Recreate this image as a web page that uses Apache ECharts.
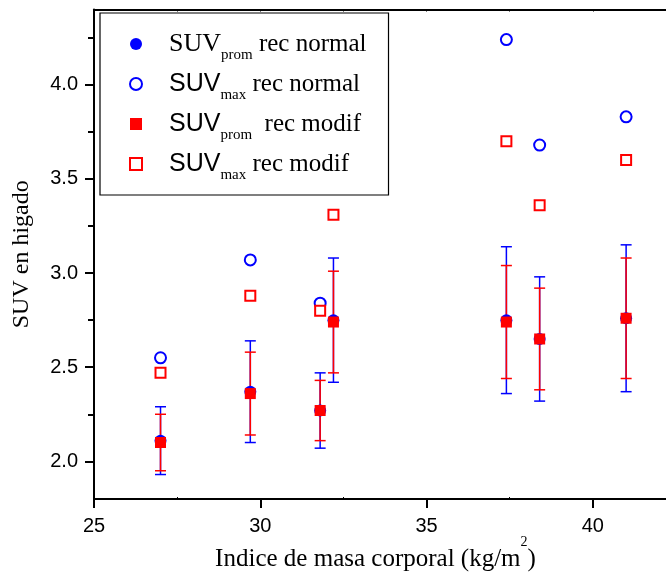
<!DOCTYPE html>
<html><head><meta charset="utf-8">
<script src="https://cdn.jsdelivr.net/npm/echarts@6/dist/echarts.min.js"></script>
<style>html,body{margin:0;padding:0;background:#fff}#c{width:666px;height:573px}</style>
</head><body><div id="c"></div>
<script>
// Data
const bmi = [27.0, 29.7, 31.8, 32.2, 37.4, 38.4, 41.0];
const promNormal = [2.11, 2.37, 2.27, 2.75, 2.75, 2.65, 2.76];
const errNormalLow = [1.93, 2.10, 2.07, 2.42, 2.36, 2.32, 2.37];
const errNormalHigh = [2.29, 2.64, 2.47, 3.08, 3.14, 2.98, 3.15];
const maxNormal = [2.55, 3.07, 2.84, null, 4.24, 3.68, 3.83];
const promModif = [2.10, 2.36, 2.27, 2.74, 2.74, 2.65, 2.76];
const errModifLow = [1.95, 2.14, 2.11, 2.47, 2.44, 2.38, 2.44];
const errModifHigh = [2.25, 2.58, 2.43, 3.01, 3.04, 2.92, 3.08];
const maxModif = [2.47, 2.88, 2.80, 3.31, 3.70, 3.36, 3.60];

const xTickLabels = [25, 30, 35, 40];
const xMinorTicks = [27.5, 32.5, 37.5];
const xTopTicks = [25, 27.5, 30, 32.5, 35, 37.5, 40];
const yTickLabels = [2.0, 2.5, 3.0, 3.5, 4.0];
const yMinorTicks = [2.25, 2.75, 3.25, 3.75, 4.25];

const seriesNames = ['SUVprom rec normal', 'SUVmax rec normal', 'SUVprom rec modif', 'SUVmax rec modif'];
const legendRich = {
  'SUVprom rec normal': '{g|}{s1|SUV}{sub|prom}{t| rec normal}',
  'SUVmax rec normal': '{g|}{s2|SUV}{sub|max}{t| rec normal}',
  'SUVprom rec modif': '{g|}{s2|SUV}{sub|prom}{t|  rec modif}',
  'SUVmax rec modif': '{g|}{s2|SUV}{sub|max}{t| rec modif}'
};

const BLUE = '#0000ff', RED = '#ff0000';
const pts = (ys) => bmi.map((x, i) => [x, ys[i]]).filter(p => p[1] != null);
const errs = (lo, hi) => bmi.map((x, i) => [x, lo[i], hi[i]]);

function errRender(color) {
  return function (params, api) {
    const x = api.value(0), lo = api.value(1), hi = api.value(2);
    const a = api.coord([x, hi]), b = api.coord([x, lo]);
    const w = 5.5;
    const st = { stroke: color, lineWidth: 1.5, fill: null };
    return { type: 'group', children: [
      { type: 'line', shape: { x1: a[0], y1: a[1], x2: b[0], y2: b[1] }, style: st },
      { type: 'line', shape: { x1: a[0] - w, y1: a[1], x2: a[0] + w, y2: a[1] }, style: st },
      { type: 'line', shape: { x1: b[0] - w, y1: b[1], x2: b[0] + w, y2: b[1] }, style: st }
    ]};
  };
}

const XMIN = 25, XMAX = 42.5, YMIN = 1.8, YMAX = 4.4;
const axisLineStyle = { color: '#000', width: 2 };

const chart = echarts.init(document.getElementById('c'), null, { renderer: 'canvas' });
chart.setOption({
  animation: false,
  backgroundColor: '#fff',
  grid: { left: 94, right: -10, top: 9.5, bottom: 74, containLabel: false, outerBoundsMode: 'none' },
  legend: {
    orient: 'vertical', left: 100, top: 13,
    padding: [18, 22, 12, 29],
    itemGap: 8.5, itemWidth: 12, itemHeight: 12,
    backgroundColor: '#fff', borderColor: '#000', borderWidth: 1.2, borderRadius: 0,
    data: [
      { name: seriesNames[0], icon: 'circle', itemStyle: { color: BLUE } },
      { name: seriesNames[1], icon: 'emptyCircle', itemStyle: { color: BLUE, borderColor: BLUE, borderWidth: 1.3 } },
      { name: seriesNames[2], icon: 'rect', itemStyle: { color: RED } },
      { name: seriesNames[3], icon: 'emptyRect', itemStyle: { color: RED, borderColor: RED, borderWidth: 1.3 } }
    ],
    formatter: n => legendRich[n],
    textStyle: {
      color: '#000',
      rich: {
        g: { width: 22, lineHeight: 38 },
        s1: { fontFamily: 'Liberation Serif', fontSize: 26, lineHeight: 38, color: '#000' },
        s2: { fontFamily: 'Liberation Sans', fontSize: 25, lineHeight: 38, color: '#000' },
        t: { fontFamily: 'Liberation Serif', fontSize: 25, lineHeight: 38, color: '#000' },
        sub: { fontFamily: 'Liberation Serif', fontSize: 15, verticalAlign: 'bottom', color: '#000' }
      }
    }
  },
  xAxis: [
    {
      type: 'value', position: 'bottom', min: XMIN, max: XMAX,
      name: '{m|Indice de masa corporal (kg/m}{sup|2}{m|)}',
      nameLocation: 'middle', nameGap: 36, nameMoveOverlap: false,
      nameTextStyle: { fontFamily: 'Liberation Serif', fontSize: 25, color: '#000', padding: [0, 19, 0, 0],
        rich: {
          m: { fontFamily: 'Liberation Serif', fontSize: 25, lineHeight: 25, verticalAlign: 'bottom', color: '#000' },
          sup: { fontFamily: 'Liberation Serif', fontSize: 14, verticalAlign: 'top', padding: [0, 0, 23, 0], color: '#000' }
        } },
      axisLine: { show: true, onZero: false, lineStyle: axisLineStyle },
      axisTick: { show: true, inside: false, length: 9, lineStyle: { color: '#000', width: 2 }, customValues: xTickLabels },
      axisLabel: { show: true, margin: 17, fontFamily: 'Liberation Sans', fontSize: 20, color: '#000', customValues: xTickLabels, formatter: v => String(v) },
      splitLine: { show: false }
    },
    {
      type: 'value', position: 'bottom', min: XMIN, max: XMAX,
      axisLine: { show: false },
      axisTick: { show: true, inside: true, length: 2, lineStyle: { color: '#000', width: 1 }, customValues: xMinorTicks },
      axisLabel: { show: false }, splitLine: { show: false }
    },
    {
      type: 'value', position: 'top', min: XMIN, max: XMAX,
      axisLine: { show: true, onZero: false, lineStyle: axisLineStyle },
      axisTick: { show: true, inside: true, length: 2, lineStyle: { color: '#000', width: 1 }, customValues: xTopTicks },
      axisLabel: { show: false }, splitLine: { show: false }
    }
  ],
  yAxis: [
    {
      type: 'value', position: 'left', min: YMIN, max: YMAX,
      name: 'SUV en higado', nameLocation: 'middle', nameGap: 60, nameMoveOverlap: false,
      nameTextStyle: { fontFamily: 'Liberation Serif', fontSize: 24, color: '#000' },
      axisLine: { show: true, onZero: false, lineStyle: axisLineStyle },
      axisTick: { show: true, inside: false, length: 9, lineStyle: { color: '#000', width: 2 }, customValues: yTickLabels },
      axisLabel: { show: true, margin: 16, fontFamily: 'Liberation Sans', fontSize: 20, color: '#000', customValues: yTickLabels, formatter: v => v.toFixed(1) },
      splitLine: { show: false }
    },
    {
      type: 'value', position: 'left', min: YMIN, max: YMAX,
      axisLine: { show: false },
      axisTick: { show: true, inside: false, length: 6, lineStyle: { color: '#000', width: 2 }, customValues: yMinorTicks },
      axisLabel: { show: false }, splitLine: { show: false }
    }
  ],
  series: [
    { type: 'custom', name: 'errNormal', renderItem: errRender(BLUE), data: errs(errNormalLow, errNormalHigh), encode: { x: 0, y: [1, 2] }, z: 2 },
    { type: 'custom', name: 'errModif', renderItem: errRender(RED), data: errs(errModifLow, errModifHigh), encode: { x: 0, y: [1, 2] }, z: 2 },
    { type: 'scatter', name: seriesNames[0], symbol: 'circle', symbolSize: 12, data: pts(promNormal), itemStyle: { color: BLUE, opacity: 1 }, z: 3 },
    { type: 'scatter', name: seriesNames[1], symbol: 'emptyCircle', symbolSize: 11, data: pts(maxNormal), itemStyle: { color: BLUE, borderColor: BLUE, borderWidth: 1.3, opacity: 1 }, z: 3 },
    { type: 'scatter', name: seriesNames[2], symbol: 'rect', symbolSize: 11, data: pts(promModif), itemStyle: { color: RED, opacity: 1 }, z: 4 },
    { type: 'scatter', name: seriesNames[3], symbol: 'emptyRect', symbolSize: 10, data: pts(maxModif), itemStyle: { color: RED, borderColor: RED, borderWidth: 1.3, opacity: 1 }, z: 4 }
  ]
});
</script>
</body></html>
